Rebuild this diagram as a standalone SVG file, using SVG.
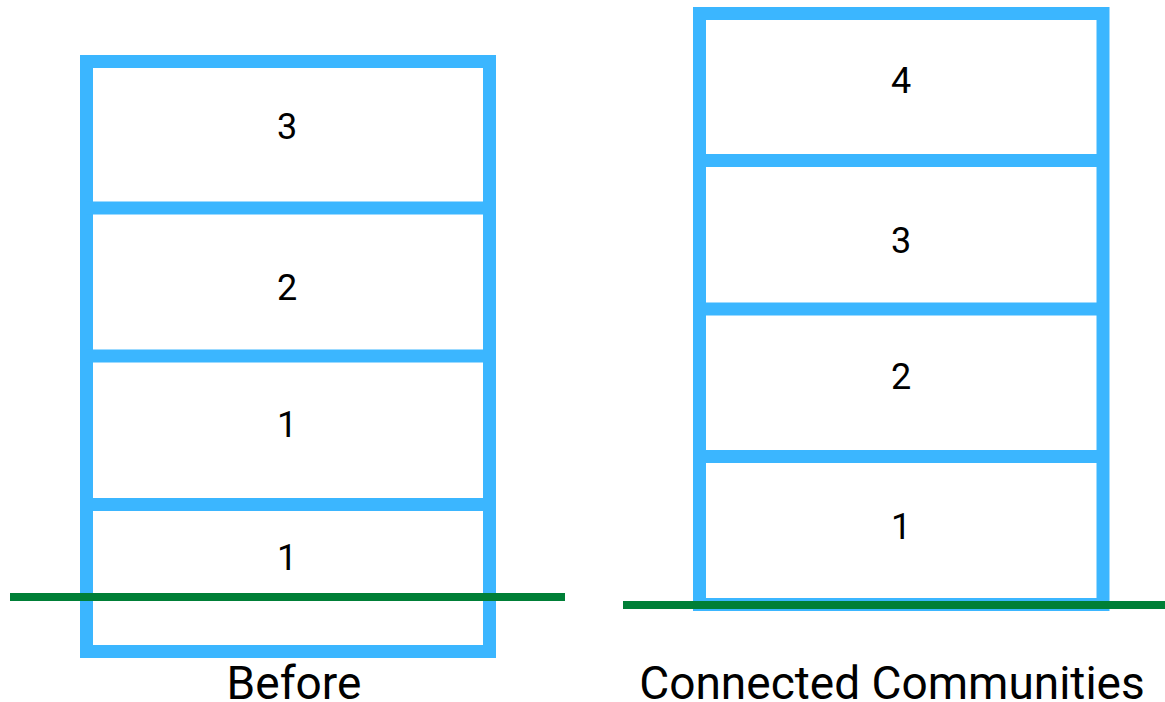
<svg xmlns="http://www.w3.org/2000/svg" width="1165" height="702" viewBox="0 0 1165 702">
  <style>
    .frame { fill: none; stroke: #3bb6ff; stroke-width: 13; }
    .floor { stroke: #3bb6ff; stroke-width: 13; }
    .ground { stroke: #007f37; stroke-width: 8; }
    .num { font-family: Roboto, "Liberation Sans", sans-serif; font-size: 36px; fill: #000; text-anchor: middle; }
    .caption { font-family: Roboto, "Liberation Sans", sans-serif; font-size: 46px; fill: #000; text-anchor: middle; }
  </style>
  <rect width="1165" height="702" fill="#ffffff"/>

  <!-- Building before -->
  <g id="building-before">
    <rect class="frame" x="86.5" y="61.5" width="403" height="590"/>
    <line class="floor" x1="86" y1="208" x2="490" y2="208"/>
    <line class="floor" x1="86" y1="356" x2="490" y2="356"/>
    <line class="floor" x1="86" y1="504.5" x2="490" y2="504.5"/>
    <text class="num" x="287" y="139">3</text>
    <text class="num" x="287" y="300">2</text>
    <text class="num" x="287" y="437">1</text>
    <text class="num" x="287" y="570">1</text>
    <text class="caption" x="294" y="699">Before</text>
  </g>

  <!-- Building with connected communities -->
  <g id="building-connected">
    <rect class="frame" x="699.5" y="13.5" width="403.5" height="591"/>
    <line class="floor" x1="699" y1="160.5" x2="1103" y2="160.5"/>
    <line class="floor" x1="699" y1="309" x2="1103" y2="309"/>
    <line class="floor" x1="699" y1="456.5" x2="1103" y2="456.5"/>
    <text class="num" x="901" y="93">4</text>
    <text class="num" x="901" y="253">3</text>
    <text class="num" x="901" y="389">2</text>
    <text class="num" x="901" y="539">1</text>
    <text class="caption" x="892" y="699">Connected Communities</text>
  </g>

  <!-- Ground lines -->
  <g id="connectors">
    <line class="ground" x1="10" y1="597" x2="565" y2="597"/>
    <line class="ground" x1="623" y1="605" x2="1165" y2="605"/>
  </g>
</svg>
